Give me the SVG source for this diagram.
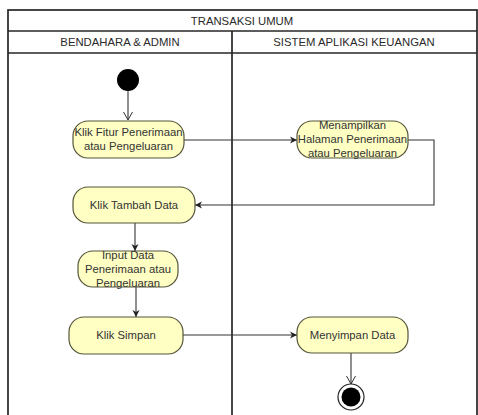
<svg xmlns="http://www.w3.org/2000/svg" width="478" height="415" viewBox="0 0 478 415">
<style>
.frame{fill:none;stroke:#262626;stroke-width:1.7}
.act{fill:#ffffc4;stroke:#55553a;stroke-width:1.2}
.t{font-family:"Liberation Sans",Arial,sans-serif;font-size:11.3px;fill:#333;text-anchor:middle}
.h{font-family:"Liberation Sans",Arial,sans-serif;font-size:11.3px;fill:#2a2a2a;text-anchor:middle}
.c{fill:none;stroke:#333;stroke-width:1.1}
</style>
<defs>
<marker id="fa" markerWidth="8" markerHeight="8" refX="7" refY="4" orient="auto" markerUnits="userSpaceOnUse"><path d="M0,0.5 L7,4 L0,7.5 L2,4 Z" fill="#222"/></marker>
<marker id="oa" markerWidth="10" markerHeight="10" refX="8" refY="5" orient="auto" markerUnits="userSpaceOnUse"><path d="M0,0.5 L8,5 L0,9.5" fill="none" stroke="#333" stroke-width="1"/></marker>
</defs>
<rect width="478" height="415" fill="#fff"/>
<g id="pool">
<rect class="frame" x="8" y="10" width="469" height="420"/>
<line class="frame" x1="8" y1="31" x2="477" y2="31"/>
<line class="frame" x1="8" y1="53" x2="477" y2="53"/>
<line class="frame" x1="232" y1="31" x2="232" y2="415"/>
<text class="h" x="242" y="25">TRANSAKSI UMUM</text>
<text class="h" x="120" y="46">BENDAHARA &amp; ADMIN</text>
<text class="h" x="354" y="46">SISTEM APLIKASI KEUANGAN</text>
</g>
<g id="connectors">
<line class="c" x1="128" y1="91" x2="128" y2="120" marker-end="url(#oa)"/>
<line class="c" x1="184" y1="140" x2="297" y2="140" marker-end="url(#fa)"/>
<polyline class="c" points="408,140 434,140 434,205 195,205" marker-end="url(#fa)"/>
<line class="c" x1="135" y1="223" x2="135" y2="251" marker-end="url(#fa)"/>
<line class="c" x1="136" y1="286" x2="136" y2="317" marker-end="url(#fa)"/>
<line class="c" x1="183" y1="335" x2="297" y2="335" marker-end="url(#fa)"/>
<line class="c" x1="351" y1="353" x2="351" y2="384" marker-end="url(#oa)"/>
</g>
<g id="start"><circle cx="128" cy="80" r="11" fill="#000"/></g>
<g id="n1">
<rect class="act" x="73" y="121" width="111" height="37" rx="15"/>
<text class="t" x="128.5" y="136">Klik Fitur Penerimaan</text>
<text class="t" x="128.5" y="150">atau Pengeluaran</text>
</g>
<g id="n2">
<rect class="act" x="297" y="121" width="111" height="37" rx="15"/>
<text class="t" x="352.5" y="129">Menampilkan</text>
<text class="t" x="352.5" y="143">Halaman Penerimaan</text>
<text class="t" x="352.5" y="157">atau Pengeluaran</text>
</g>
<g id="n3">
<rect class="act" x="73" y="187" width="122" height="36" rx="15"/>
<text class="t" x="134" y="209">Klik Tambah Data</text>
</g>
<g id="n4">
<rect class="act" x="78" y="251" width="100" height="36" rx="15"/>
<text class="t" x="128" y="259">Input Data</text>
<text class="t" x="128" y="273">Penerimaan atau</text>
<text class="t" x="128" y="287">Pengeluaran</text>
</g>
<g id="n5">
<rect class="act" x="69" y="317" width="114" height="37" rx="15"/>
<text class="t" x="126" y="339">Klik Simpan</text>
</g>
<g id="n6">
<rect class="act" x="297" y="317" width="111" height="36" rx="15"/>
<text class="t" x="352.5" y="339">Menyimpan Data</text>
</g>
<g id="end">
<circle cx="351" cy="397" r="13" fill="#fff" stroke="#222" stroke-width="1.2"/>
<circle cx="351" cy="397" r="9.5" fill="#000"/>
</g>
</svg>
